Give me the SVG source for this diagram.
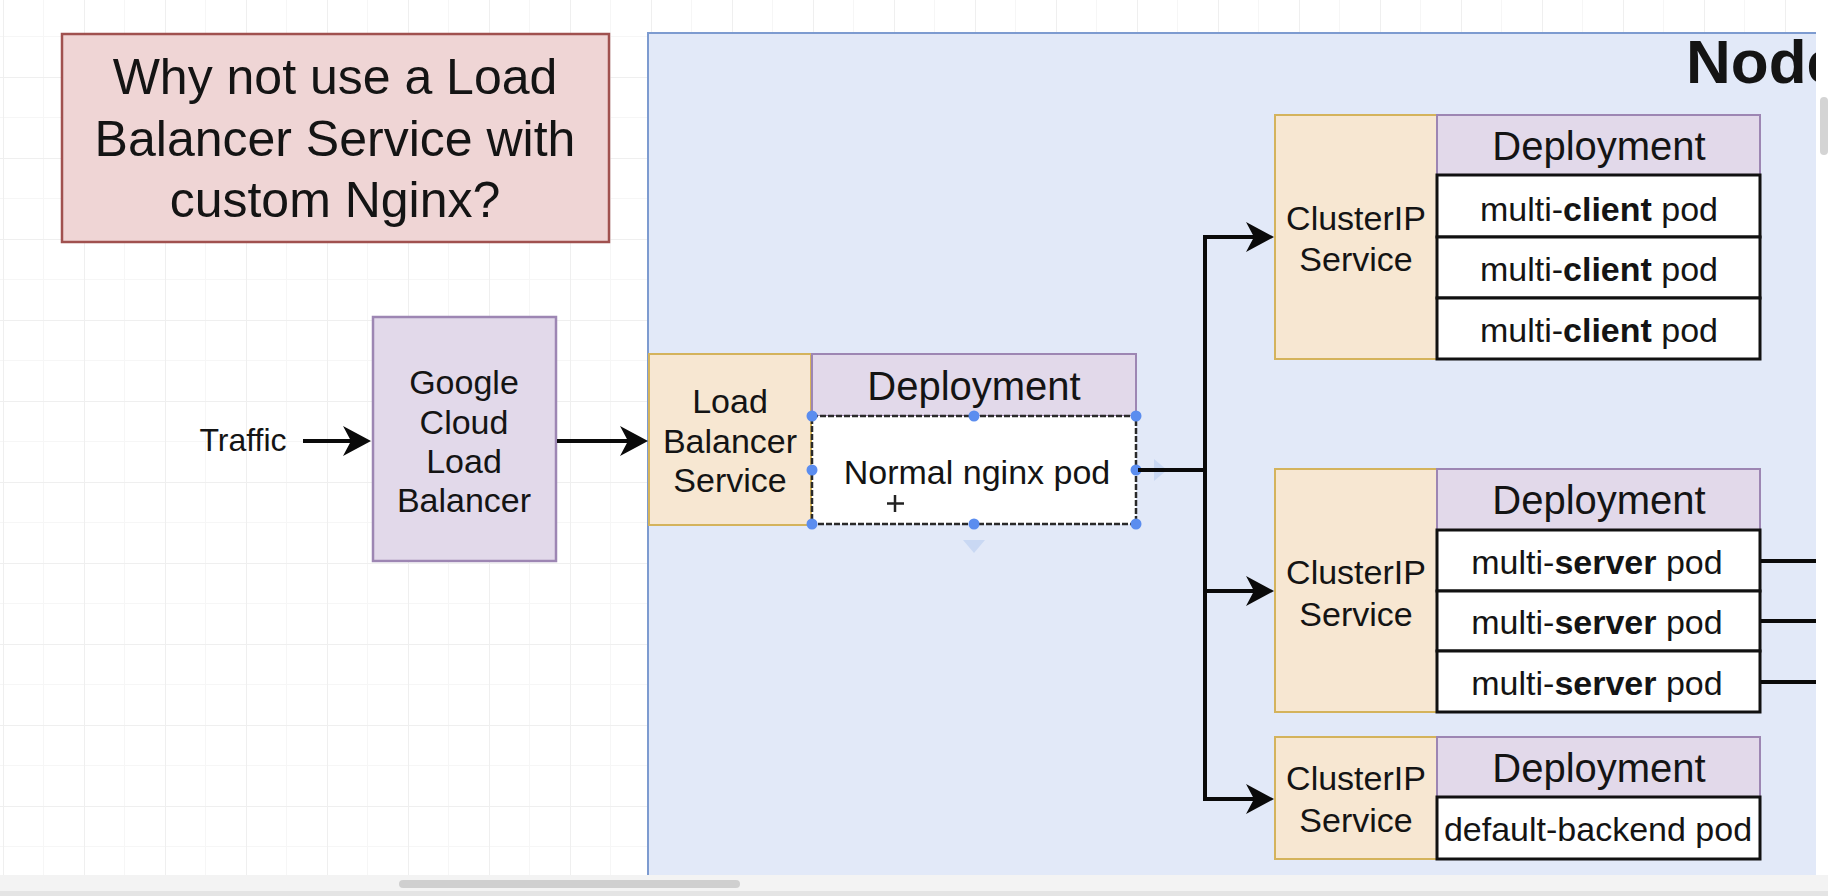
<svg xmlns="http://www.w3.org/2000/svg" width="1828" height="896" viewBox="0 0 1828 896">
<style>
text{font-family:"Liberation Sans",Arial,Helvetica,sans-serif;fill:#141414;text-anchor:middle;dominant-baseline:central}
.q{font-size:50px}
.t34{font-size:34px}
.t40{font-size:40px}
.svc{fill:#f7e7d2;stroke:#d4b35c;stroke-width:2}
.dep{fill:#e2d9ea;stroke:#9d86b3;stroke-width:2}
.pod{fill:#ffffff;stroke:#111111;stroke-width:3}
.conn{fill:none;stroke:#0a0a0a;stroke-width:4;stroke-linejoin:miter}
.h{fill:#5b8def}
</style>
<defs>
<pattern id="grid" x="3" y="-4" width="81" height="81" patternUnits="userSpaceOnUse">
<path d="M40.5,0 V81 M0,40.5 H81" stroke="#f6f6f6" stroke-width="1" fill="none"/>
<path d="M0.5,0 V81 M0,0.5 H81" stroke="#efefef" stroke-width="1" fill="none"/>
</pattern>
<marker id="arr" markerUnits="userSpaceOnUse" viewBox="0 0 28 30" markerWidth="28" markerHeight="30" refX="8" refY="15" orient="auto">
<path d="M28,15 L0,0 L8,15 L0,30 Z" fill="#0a0a0a"/>
</marker>
</defs>
<rect x="0" y="0" width="1828" height="896" fill="#ffffff"/>
<rect x="0" y="0" width="1828" height="896" fill="url(#grid)"/>

<g id="question">
<rect x="62" y="34" width="547" height="208" fill="#efd5d5" stroke="#a0514f" stroke-width="2.5"/>
<text class="q" x="335" y="77">Why not use a Load</text>
<text class="q" x="335" y="139">Balancer Service with</text>
<text class="q" x="335" y="200">custom Nginx?</text>
</g>

<g id="node-container">
<rect x="648" y="33" width="1200" height="880" fill="#e2e9f8" stroke="#7d9bd0" stroke-width="2"/>
<text x="1686" y="83" style="font-size:62px;font-weight:bold;text-anchor:start;dominant-baseline:alphabetic">Node</text>
</g>

<g id="traffic">
<text x="243" y="440" style="font-size:32px">Traffic</text>
</g>

<g id="gclb">
<rect x="373" y="317" width="183" height="244" fill="#e2d9ea" stroke="#9d86b3" stroke-width="2.5"/>
<text class="t34" x="464" y="382">Google</text>
<text class="t34" x="464" y="422">Cloud</text>
<text class="t34" x="464" y="461">Load</text>
<text class="t34" x="464" y="500">Balancer</text>
</g>

<g id="lb-service">
<rect class="svc" x="649" y="354" width="162" height="171"/>
<text class="t34" x="730" y="401">Load</text>
<text class="t34" x="730" y="441">Balancer</text>
<text class="t34" x="730" y="480">Service</text>
</g>

<g id="nginx-deployment">
<rect class="dep" x="812" y="354" width="324" height="62"/>
<text class="t40" x="974" y="386">Deployment</text>
<rect x="812" y="416" width="324" height="108" fill="#ffffff" stroke="#2a2a2a" stroke-width="2.5" stroke-dasharray="6 2"/>
<text class="t34" x="977" y="472">Normal nginx pod</text>
<g id="selection">
<circle class="h" cx="812" cy="416" r="5.5"/>
<circle class="h" cx="974" cy="416" r="5.5"/>
<circle class="h" cx="1136" cy="416" r="5.5"/>
<circle class="h" cx="812" cy="470" r="5.5"/>
<circle class="h" cx="1136" cy="470" r="5.5"/>
<circle class="h" cx="812" cy="524" r="5.5"/>
<circle class="h" cx="974" cy="524" r="5.5"/>
<circle class="h" cx="1136" cy="524" r="5.5"/>
<path d="M963,540 L985,540 L974,553 Z" fill="#c9d8f3"/>
<path d="M1154,459 L1167,470 L1154,481 Z" fill="#c9d8f3"/>
<path d="M895,495 V512 M887,503.5 H904" stroke="#222" stroke-width="2.5" fill="none"/>
</g>
</g>

<g id="client-group">
<rect class="svc" x="1275" y="115" width="162" height="244"/>
<text class="t34" x="1356" y="218">ClusterIP</text>
<text class="t34" x="1356" y="259">Service</text>
<rect class="dep" x="1437" y="115" width="323" height="60"/>
<text class="t40" x="1599" y="146">Deployment</text>
<rect class="pod" x="1437" y="175" width="323" height="62"/>
<rect class="pod" x="1437" y="237" width="323" height="61"/>
<rect class="pod" x="1437" y="298" width="323" height="61"/>
<text class="t34" x="1599" y="209">multi-<tspan font-weight="bold">client</tspan> pod</text>
<text class="t34" x="1599" y="269">multi-<tspan font-weight="bold">client</tspan> pod</text>
<text class="t34" x="1599" y="330">multi-<tspan font-weight="bold">client</tspan> pod</text>
</g>

<g id="server-group">
<rect class="svc" x="1275" y="469" width="162" height="243"/>
<text class="t34" x="1356" y="572">ClusterIP</text>
<text class="t34" x="1356" y="614">Service</text>
<rect class="dep" x="1437" y="469" width="323" height="61"/>
<text class="t40" x="1599" y="500">Deployment</text>
<rect class="pod" x="1437" y="530" width="323" height="61"/>
<rect class="pod" x="1437" y="591" width="323" height="60"/>
<rect class="pod" x="1437" y="651" width="323" height="61"/>
<text class="t34" x="1597" y="562">multi-<tspan font-weight="bold">server</tspan> pod</text>
<text class="t34" x="1597" y="622">multi-<tspan font-weight="bold">server</tspan> pod</text>
<text class="t34" x="1597" y="683">multi-<tspan font-weight="bold">server</tspan> pod</text>
</g>

<g id="backend-group">
<rect class="svc" x="1275" y="737" width="162" height="122"/>
<text class="t34" x="1356" y="778">ClusterIP</text>
<text class="t34" x="1356" y="820">Service</text>
<rect class="dep" x="1437" y="737" width="323" height="60"/>
<text class="t40" x="1599" y="768">Deployment</text>
<rect class="pod" x="1437" y="797" width="323" height="62"/>
<text class="t34" x="1598" y="829">default-backend pod</text>
</g>

<g id="connectors">
<path class="conn" d="M303,441 H351" marker-end="url(#arr)"/>
<path class="conn" d="M557,441 H628" marker-end="url(#arr)"/>
<path class="conn" d="M1138,470 H1205 V237 H1254" marker-end="url(#arr)"/>
<path class="conn" d="M1205,470 V591 H1254" marker-end="url(#arr)"/>
<path class="conn" d="M1205,591 V799 H1254" marker-end="url(#arr)"/>
<path class="conn" d="M1761,561 H1830 M1761,621 H1830 M1761,682 H1830"/>
</g>

<g id="ui-chrome">
<rect x="1816" y="0" width="12" height="875" fill="#ffffff"/>
<rect x="1820" y="97" width="8" height="58" rx="4" fill="#d4d4d4"/>
<rect x="0" y="875" width="1828" height="21" fill="#f3f3f3"/>
<rect x="399" y="880" width="341" height="8" rx="4" fill="#cfcfcf"/>
<rect x="0" y="891" width="1828" height="5" fill="#e4e4e4"/>
</g>
</svg>
